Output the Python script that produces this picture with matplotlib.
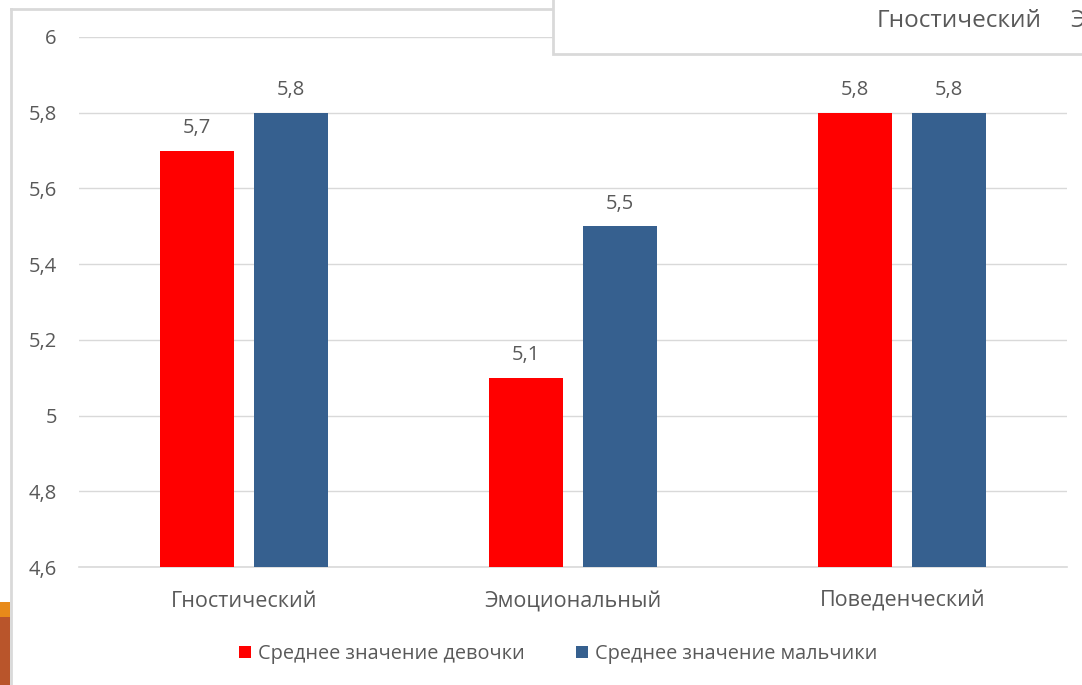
import numpy as np
import matplotlib.pyplot as plt
from matplotlib.patches import Rectangle

plt.rcParams['font.family'] = ['Open Sans', 'DejaVu Sans']

# data
categories = ['Гностический', 'Эмоциональный', 'Поведенческий']
girls = [5.7, 5.1, 5.8]
boys = [5.8, 5.5, 5.8]
series_names = ['Среднее значение девочки', 'Среднее значение мальчики']
y_ticks = [4.6, 4.8, 5.0, 5.2, 5.4, 5.6, 5.8, 6.0]

RED = '#FF0000'
BLUE = '#36608F'
TXT = '#595959'
GRID = '#D9D9D9'

W, H = 1082, 685
fig = plt.figure(figsize=(W / 100, H / 100), dpi=100)

# plot area in pixels: x 79..1067, y 37..567
ax = fig.add_axes([79 / W, 1 - 567 / H, (1067 - 79) / W, (567 - 37) / H])

x = np.arange(len(categories))
bw = 74 / 329.3
gap = 20 / 329.3
b1 = ax.bar(x - (bw + gap) / 2, girls, bw, color=RED, label=series_names[0], zorder=3)
b2 = ax.bar(x + (bw + gap) / 2, boys, bw, color=BLUE, label=series_names[1], zorder=3)

for bars, vals in ((b1, girls), (b2, boys)):
    for rect, v in zip(bars, vals):
        ax.annotate(f'{v:.1f}'.replace('.', ','),
                    (rect.get_x() + rect.get_width() / 2, v),
                    xytext=(0, 9), textcoords='offset points',
                    ha='center', va='bottom', fontsize=14.5, color=TXT)

ax.set_xlim(-0.5, len(categories) - 0.5)
ax.set_ylim(4.6, 6.0)
ax.set_yticks(y_ticks)
ax.set_yticklabels([f'{t:g}'.replace('.', ',') for t in y_ticks])
ax.set_xticks(x)
ax.set_xticklabels(categories)
ax.tick_params(axis='y', length=0, pad=16, labelsize=14.5, labelcolor=TXT)
ax.tick_params(axis='x', length=0, pad=17, labelsize=15.5, labelcolor=TXT)
ax.grid(axis='y', color=GRID, linewidth=1, zorder=0)
for side in ('left', 'right', 'top'):
    ax.spines[side].set_visible(False)
ax.spines['bottom'].set_color(GRID)
ax.spines['bottom'].set_linewidth(1.2)

leg = fig.legend(handles=[b1, b2], loc='center', bbox_to_anchor=(558 / W, 1 - 654 / H),
                 ncol=2, frameon=False, fontsize=14.3, handlelength=0.6, handleheight=0.6,
                 handletextpad=0.35, columnspacing=2.6)
for t in leg.get_texts():
    t.set_color(TXT)

# frame of the chart window and pieces of the surrounding screen
fig.add_artist(plt.Line2D([11 / W, 11 / W], [0, 1 - 9 / H], color=GRID, lw=2, transform=fig.transFigure))
fig.add_artist(plt.Line2D([11 / W, 553 / W], [1 - 9 / H, 1 - 9 / H], color=GRID, lw=2, transform=fig.transFigure))
fig.add_artist(Rectangle((553 / W, 1 - 54 / H), 1 - 553 / W + 0.01, 54 / H + 0.01, transform=fig.transFigure,
                         facecolor='white', edgecolor=GRID, lw=2, zorder=5))
fig.text(877 / W, 1 - 21 / H, 'Гностический', fontsize=17.5, color=TXT, va='center', ha='left', zorder=6)
fig.text(1070 / W, 1 - 21 / H, 'Э', fontsize=17.5, color=TXT, va='center', ha='left', zorder=6)
fig.add_artist(Rectangle((0, 1 - 617 / H), 10 / W, 15 / H, transform=fig.transFigure,
                         facecolor='#E88A1A', edgecolor='none'))
fig.add_artist(Rectangle((0, 0), 10 / W, 1 - 617 / H, transform=fig.transFigure,
                         facecolor='#B9552B', edgecolor='none'))

fig.savefig('out.png', dpi=100)
